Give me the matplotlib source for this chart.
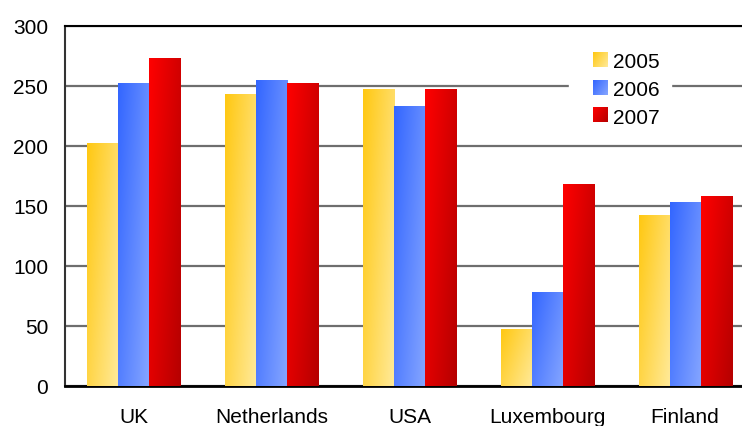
import numpy as np
import matplotlib
matplotlib.use("Agg")
import matplotlib.pyplot as plt
from matplotlib.colors import LinearSegmentedColormap
from matplotlib.legend_handler import HandlerBase
from matplotlib.image import BboxImage
from matplotlib.transforms import Bbox, TransformedBbox
from matplotlib.patches import Rectangle

plt.rcParams['font.family'] = ['Liberation Sans', 'DejaVu Sans']

categories = ["UK", "Netherlands", "USA", "Luxembourg", "Finland"]
series_names = ["2005", "2006", "2007"]
values_2005 = [202, 243, 247, 47, 142]
values_2006 = [252, 255, 233, 78, 153]
values_2007 = [273, 252, 247, 168, 158]
yticks = [0, 50, 100, 150, 200, 250, 300]

series = [values_2005, values_2006, values_2007]
cmaps = [
    LinearSegmentedColormap.from_list("y", ["#FFC812", "#FFEA9A"]),
    LinearSegmentedColormap.from_list("b", ["#3366FF", "#86A6FF"]),
    LinearSegmentedColormap.from_list("r", ["#FF0000", "#B50000"]),
]

W, H = 742, 427
fig = plt.figure(figsize=(W / 100, H / 100), dpi=100)
ax = fig.add_axes([65 / W, 1 - 387 / H, (754 - 65) / W, 360 / H])

# gradient field (diagonal: top-left -> bottom-right)
n = 64
u = np.linspace(0, 1, n)
vv = np.linspace(0, 1, n)
U, V = np.meshgrid(u, vv)  # V: 0 at top row
grad = np.clip(0.62 * U + 0.38 * V, 0, 1)

x = np.arange(len(categories))
bw = 0.225
for i, (vals, cm) in enumerate(zip(series, cmaps)):
    bars = ax.bar(x + (i - 1) * bw, vals, bw, color='none', edgecolor='none', zorder=3)
    for r in bars:
        x0, y0 = r.get_x(), r.get_y()
        w, h = r.get_width(), r.get_height()
        ax.imshow(grad, cmap=cm, extent=[x0, x0 + w, y0, y0 + h], origin='upper',
                  aspect='auto', zorder=3, interpolation='bilinear')

ax.set_xlim(-0.5, len(categories) - 0.5)
ax.set_ylim(0, 300)
ax.set_yticks(yticks)
ax.set_yticklabels([str(t) for t in yticks])
ax.set_xticks(x)
ax.set_xticklabels(categories)
ax.tick_params(axis='y', length=0, pad=12, labelsize=15)
ax.tick_params(axis='x', length=0, pad=15, labelsize=15)
ax.yaxis.grid(True, color='#6e6e6e', lw=1.6, zorder=1)
ax.set_axisbelow(True)
ax.spines['right'].set_visible(False)
ax.spines['top'].set_color('black')
ax.spines['top'].set_linewidth(1.5)
ax.spines['left'].set_color('#333333')
ax.spines['left'].set_linewidth(1.5)
ax.spines['bottom'].set_color('black')
ax.spines['bottom'].set_linewidth(2)


class GradHandler(HandlerBase):
    def __init__(self, cmap):
        super().__init__()
        self.cmap = cmap

    def create_artists(self, legend, orig_handle, xdescent, ydescent, width, height, fontsize, trans):
        side = height
        bb = Bbox.from_bounds(-xdescent + width - side, -ydescent, side, side)
        img = BboxImage(TransformedBbox(bb, trans), cmap=self.cmap, interpolation='bilinear')
        img.set_data(grad)
        return [img]


handles = [Rectangle((0, 0), 1, 1) for _ in series_names]
handler_map = {h: GradHandler(cm) for h, cm in zip(handles, cmaps)}
leg = ax.legend(handles, series_names, handler_map=handler_map,
                loc='upper left', bbox_to_anchor=(569 / W, 1 - 42 / H),
                bbox_transform=fig.transFigure, fontsize=15,
                handlelength=1.27, handleheight=0.67, handletextpad=0.3,
                labelspacing=0.41, borderpad=0.55, borderaxespad=0,
                frameon=True, fancybox=False, framealpha=1)
leg.get_frame().set_facecolor('white')
leg.get_frame().set_edgecolor('white')
leg.set_zorder(5)

fig.savefig("out.png", dpi=100)
